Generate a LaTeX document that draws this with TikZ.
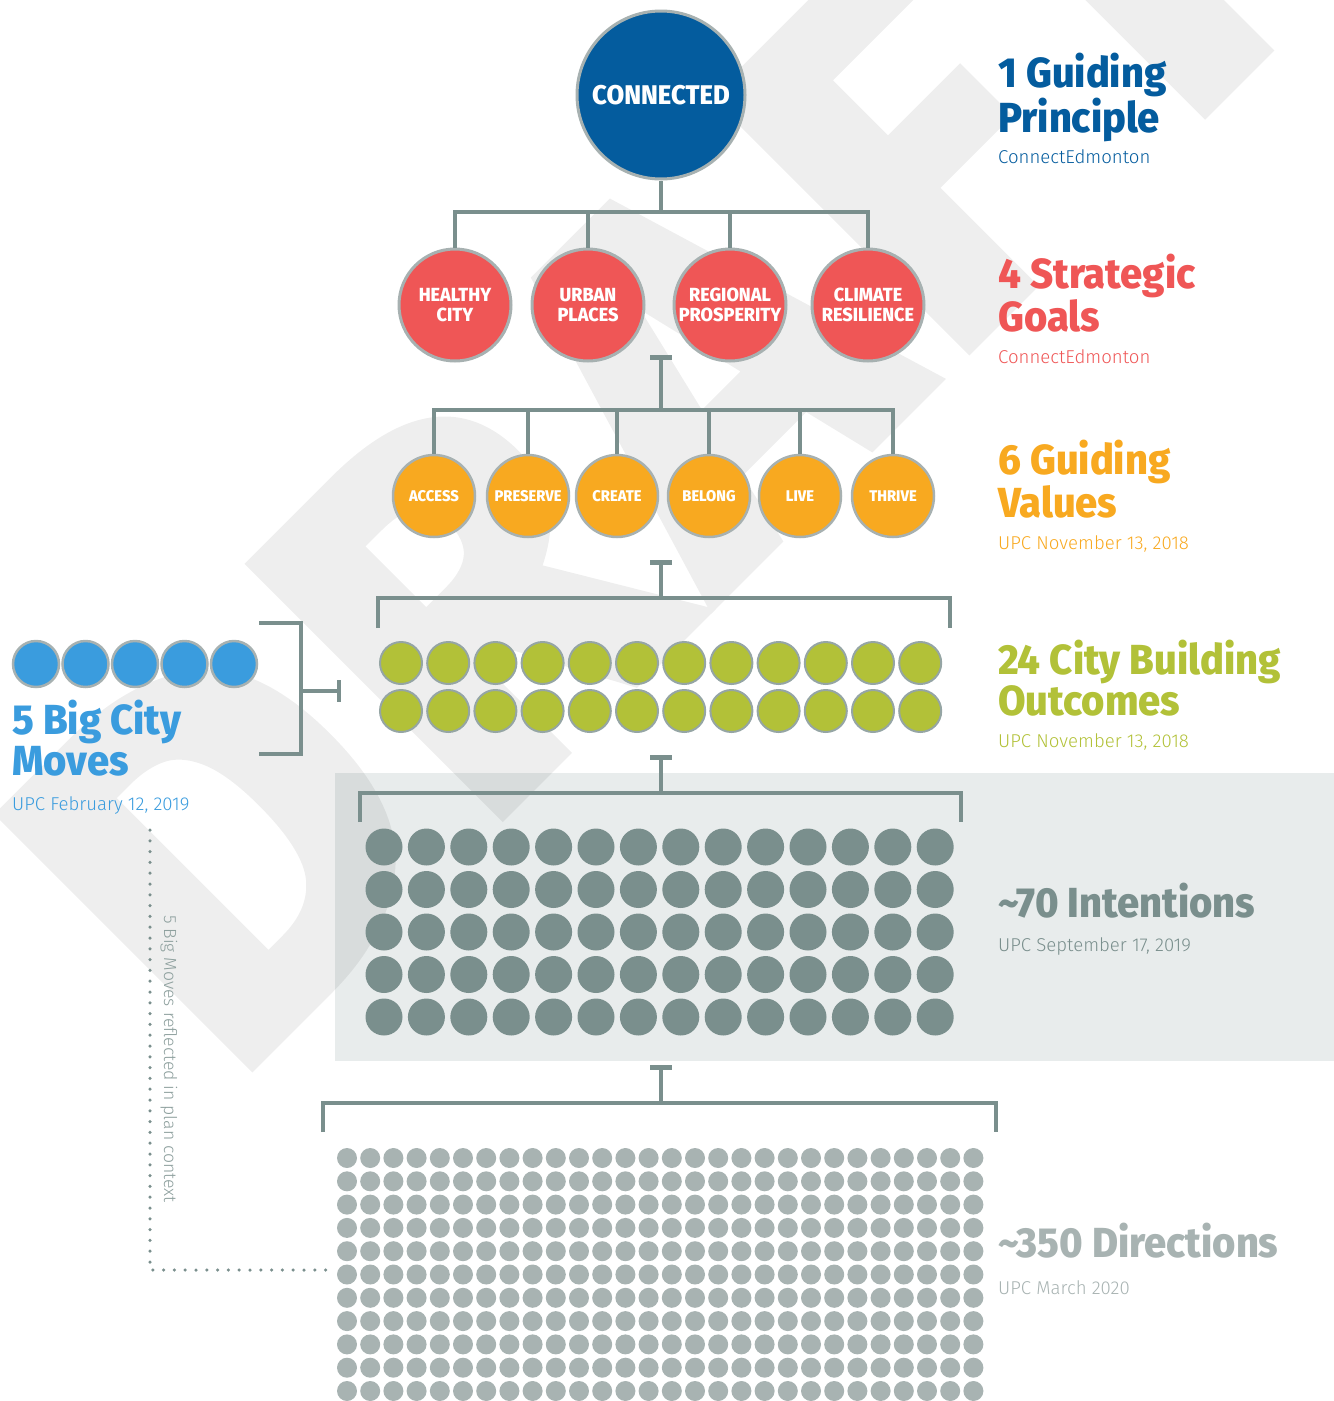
\documentclass[tikz,border=0pt]{standalone}
\usepackage{fontspec}
\setmainfont{Fira Sans}
\newfontfamily\headfont{Fira Sans ExtraBold}[FakeStretch=0.95]
\newfontfamily\lightfont{Fira Sans Light}
\newfontfamily\wmfont{Fira Sans}[BoldFeatures={FakeBold=3,LetterSpace=5}]
\usetikzlibrary{positioning,arrows.meta}

\definecolor{cblue}{RGB}{4,92,158}
\definecolor{cred}{RGB}{239,86,86}
\definecolor{corange}{RGB}{248,169,32}
\definecolor{cgreen}{RGB}{178,193,56}
\definecolor{cbig}{RGB}{58,156,222}
\definecolor{cline}{RGB}{122,143,141}
\definecolor{cdir}{RGB}{168,179,178}
\definecolor{cbox}{RGB}{232,236,236}
\definecolor{cring}{RGB}{167,177,177}

\tikzset{
  ring/.style={circle, draw=cring, inner sep=0pt, align=center, text=white},
  principle/.style={ring, fill=cblue, line width=3pt, minimum size=168pt,
    font=\headfont\fontsize{27}{30}\selectfont},
  goal/.style={ring, fill=cred, line width=3pt, minimum size=112pt,
    font=\headfont\fontsize{19}{20}\selectfont},
  value/.style={ring, fill=corange, line width=2.5pt, minimum size=82pt,
    font=\headfont\fontsize{15.5}{16}\selectfont},
  bigmove/.style={ring, fill=cbig, line width=2.5pt, minimum size=46pt},
  outcome/.style={ring, fill=cgreen, draw=cline!80, line width=2pt, minimum size=42pt},
  intent/.style={circle, fill=cline, inner sep=0pt, minimum size=37pt},
  direction/.style={circle, fill=cdir, inner sep=0pt, minimum size=20pt},
  link/.style={draw=cline, line width=4.5pt},
  tbar/.style={link, {Bar[width=22pt]}-},
  heading/.style={anchor=base west, align=left, inner sep=0pt,
    font=\headfont\fontsize{42}{41}\selectfont},
  source/.style={anchor=base west, inner sep=0pt, font=\lightfont\fontsize{18.6}{20}\selectfont},
  watermark/.style={anchor=base west, rotate=45, inner sep=0pt, text=black,
    font=\wmfont\bfseries\fontsize{505}{505}\selectfont},
}

\begin{document}
\begin{tikzpicture}[x=1pt, y=-1pt]
  \useasboundingbox (0,0) rectangle (1334,1401);

  % Backdrop
  \fill[cbox] (335,773) rectangle (1334,1061);
  \begin{scope}[transparency group, opacity=0.065]
    \node[watermark] (wm) at (229,1085) {DRAFT};
  \end{scope}

  % Define nodes
  \node[principle] (conn) at (661,95) {CONNECTED};

  \node[goal] (hc) at (455,305) {HEALTHY\\CITY};
  \node[goal] (up) at (588,305) {URBAN\\PLACES};
  \node[goal] (rp) at (730,305) {REGIONAL\\PROSPERITY};
  \node[goal] (cr) at (868,305) {CLIMATE\\RESILIENCE};

  \node[value] (acc) at (434,496) {ACCESS};
  \node[value] (pre) at (528,496) {PRESERVE};
  \node[value] (cre) at (617,496) {CREATE};
  \node[value] (bel) at (709,496) {BELONG};
  \node[value] (liv) at (800,496) {LIVE};
  \node[value] (thr) at (893,496) {THRIVE};

  \node[bigmove] (m1) at (36,664) {};
  \foreach \i [count=\j from 2] in {1,...,4}
    \node[bigmove, right=1pt of m\i] (m\j) {};

  \foreach \c in {0,...,11}
    \foreach \r in {0,1}
      \node[outcome] (o\r-\c) at ({401+47.2*\c},{663+48*\r}) {};

  \foreach \c in {0,...,13}
    \foreach \r in {0,...,4}
      \node[intent] (i\r-\c) at ({384+42.4*\c},{847+42.5*\r}) {};

  \foreach \c in {0,...,27}
    \foreach \r in {0,...,10}
      \node[direction] (d\r-\c) at ({347+23.2*\c},{1158+23.3*\r}) {};

  % Connect the nodes
  \coordinate (b1) at (661,212);
  \draw[link] (conn) -- (b1);
  \draw[link] (hc.north) |- (b1) -| (cr.north);
  \draw[link] (up.north) -- (up.north |- b1);
  \draw[link] (rp.north) -- (rp.north |- b1);

  \coordinate (t2) at (661,355);
  \coordinate (b2) at (661,410);
  \draw[tbar] (t2) -- (b2);
  \draw[link] (acc.north) |- (b2) -| (thr.north);
  \foreach \n in {pre,cre,bel,liv}
    \draw[link] (\n.north) -- (\n.north |- b2);

  \coordinate (t3) at (661,560);
  \coordinate (b3) at (661,598);
  \coordinate (e3w) at (378,628);
  \coordinate (e3e) at (950,628);
  \draw[tbar] (t3) -- (b3);
  \draw[link] (e3w) |- (b3) -| (e3e);

  \coordinate (t4) at (661,755);
  \coordinate (b4) at (661,793);
  \coordinate (e4w) at (360,822);
  \coordinate (e4e) at (961,822);
  \draw[tbar] (t4) -- (b4);
  \draw[link] (e4w) |- (b4) -| (e4e);

  \coordinate (t5) at (661,1065);
  \coordinate (b5) at (661,1103);
  \coordinate (e5w) at (323,1132);
  \coordinate (e5e) at (996,1132);
  \draw[tbar] (t5) -- (b5);
  \draw[link] (e5w) |- (b5) -| (e5e);

  % Bracket for the big city moves
  \coordinate (lbt) at (259,623);
  \coordinate (lbb) at (259,754);
  \coordinate (lbm) at (301,691);
  \coordinate (lbe) at (341,691);
  \draw[link] (lbt) -| (lbm) |- (lbb);
  \draw[link, -{Bar[width=22pt]}] (lbm) -- (lbe);

  % Dotted reference line
  \coordinate (dt) at (150,830);
  \coordinate (db) at (327,1270);
  \draw[cline, line width=3.5pt, line cap=round, dash pattern=on 0pt off 10.8pt] (dt) |- (db);
  \node[anchor=base west, rotate=-90, inner sep=0pt, text=cline!85,
    font=\lightfont\fontsize{17.6}{20}\selectfont] (note) at (164,915) {5 Big Moves reflected in plan context};

  % Labels
  \node[heading, text=cblue] (h1) at (998,132) {1 Guiding\\Principle};
  \node[source, text=cblue] (s1) at (998,163) {ConnectEdmonton};
  \node[heading, text=cred] (h2) at (998,331) {4 Strategic\\Goals};
  \node[source, text=cred] (s2) at (998,363) {ConnectEdmonton};
  \node[heading, text=corange] (h3) at (998,517) {6 Guiding\\Values};
  \node[source, text=corange] (s3) at (998,549) {UPC November 13, 2018};
  \node[heading, text=cgreen] (h4) at (998,715) {24 City Building\\Outcomes};
  \node[source, text=cgreen] (s4) at (998,747) {UPC November 13, 2018};
  \node[heading, text=cline] (h5) at (998,917) {\textasciitilde70 Intentions};
  \node[source, text=cline] (s5) at (998,951) {UPC September 17, 2019};
  \node[heading, text=cdir] (h6) at (998,1257) {\textasciitilde350 Directions};
  \node[source, text=cdir] (s6) at (998,1294) {UPC March 2020};
  \node[heading, text=cbig] (h0) at (12,775) {5 Big City\\Moves};
  \node[source, text=cbig] (s0) at (12,810) {UPC February 12, 2019};

\end{tikzpicture}
\end{document}
